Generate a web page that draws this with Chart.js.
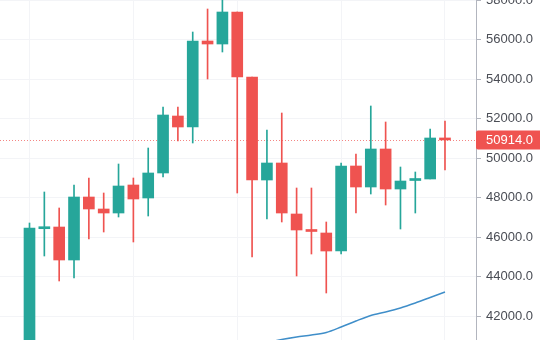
<!DOCTYPE html>
<html>
<head>
<meta charset="utf-8">
<script src="https://cdn.jsdelivr.net/npm/chart.js@4/dist/chart.umd.min.js"></script>
<style>
  html, body { margin: 0; padding: 0; background: #fff; overflow: hidden; }
  #wrap { position: absolute; left: 0; top: -20px; width: 540px; height: 380px; }
</style>
</head>
<body>
<div id="wrap"><canvas id="chart" width="540" height="380"></canvas></div>
<script>
// candles, one per bar slot (index 0..28)
const opens  = [40000, 46420, 46506, 44836, 48025, 47418, 47215, 48633, 47975, 49241,
                52126, 51570, 55924, 55772, 57392, 54101, 48886, 49747, 47165, 46330,
                46203, 45291, 49595, 48532, 50456, 48430, 48860, 48937, 51000];
const closes = [46456, 46470, 44836, 48025, 47418, 47215, 48582, 47924, 49241, 52177,
                51570, 55924, 55772, 57392, 54101, 48886, 49747, 47215, 46355, 46279,
                45291, 49595, 48532, 50456, 48430, 48835, 48900, 51013, 50914];
const highs  = [46709, 48279, 47469, 48633, 48987, 48228, 49696, 48987, 50506, 52582,
                52582, 56379, 57544, 58300, 57392, 54101, 51418, 52278, 48481, 48481,
                46760, 49747, 50203, 52633, 51823, 49544, 49291, 51468, 51873];
const lows   = [39500, 45038, 43773, 43924, 45899, 46253, 47013, 45747, 47063, 49038,
                50861, 50760, 54000, 55367, 48228, 44988, 46912, 46760, 44026, 45139,
                43165, 45139, 47215, 48177, 47620, 46405, 47215, 48937, 49392];

// moving average, only the tail is on screen
const maIndex  = [16, 17, 18, 19, 20, 21, 22, 23, 24, 25, 26, 27, 28];
const maValues = [40650, 40811, 40937, 41038, 41165, 41443, 41747, 42026, 42203, 42405, 42658, 42937, 43215];

const yTickValues = [42000, 44000, 46000, 48000, 50000, 52000, 54000, 56000, 58000];
const xGridAt     = [0, 7, 14, 21, 28];
const lastPrice   = 50914;

const UP   = '#26a69a';
const DOWN = '#ef5350';
const candleColors = opens.map((o, i) => closes[i] >= o ? UP : DOWN);

const priceTag = {
  id: 'priceTag',
  beforeDatasetsDraw(chart) {
    const { ctx, chartArea } = chart;
    const y = Math.round(chart.scales.y.getPixelForValue(lastPrice)) + 0.5;
    ctx.save();
    ctx.strokeStyle = 'rgba(239,83,80,0.7)';
    ctx.lineWidth = 1;
    ctx.setLineDash([1, 2]);
    ctx.beginPath();
    ctx.moveTo(chartArea.left, y);
    ctx.lineTo(chartArea.right, y);
    ctx.stroke();
    ctx.restore();
  },
  afterDraw(chart) {
    const { ctx, chartArea } = chart;
    const y = chart.scales.y.getPixelForValue(lastPrice);
    ctx.save();
    ctx.fillStyle = DOWN;
    ctx.beginPath();
    ctx.roundRect(chartArea.right, y - 9.5, chart.width - chartArea.right + 4, 19, 2);
    ctx.fill();
    ctx.fillStyle = '#fff';
    ctx.font = '13px "Liberation Sans", Arial, sans-serif';
    ctx.textBaseline = 'middle';
    ctx.fillText(lastPrice.toFixed(1), chartArea.right + 10, y + 0.5);
    ctx.restore();
  }
};

new Chart(document.getElementById('chart'), {
  type: 'bar',
  data: {
    datasets: [
      {
        type: 'line',
        data: maIndex.map((x, i) => ({ x, y: maValues[i] })),
        borderColor: '#3f8ec9',
        borderWidth: 1.5,
        pointRadius: 0,
        tension: 0.3,
        order: 0,
      },
      {
        data: opens.map((o, i) => ({ x: i, y: [o, closes[i]] })),
        backgroundColor: candleColors,
        borderWidth: 0,
        barThickness: 11,
        minBarLength: 2,
        grouped: false,
        order: 1,
      },
      {
        data: lows.map((l, i) => ({ x: i, y: [l, highs[i]] })),
        backgroundColor: candleColors,
        borderWidth: 0,
        barThickness: 1,
        grouped: false,
        order: 2,
      },
    ],
  },
  options: {
    responsive: false,
    animation: false,
    events: [],
    layout: { padding: { top: 20, bottom: 20, left: 0, right: 0 } },
    plugins: { legend: { display: false }, tooltip: { enabled: false } },
    scales: {
      x: {
        type: 'linear',
        offset: false,
        min: -1.988,
        max: 30.09,
        afterBuildTicks: s => { s.ticks = xGridAt.map(v => ({ value: v })); },
        ticks: { display: false },
        grid: { color: '#f3f4f7', drawTicks: false, offset: false },
        border: { display: false },
      },
      y: {
        position: 'right',
        min: 40785,
        max: 58000,
        afterBuildTicks: s => { s.ticks = yTickValues.map(v => ({ value: v })); },
        afterFit: s => { s.width = 64; },
        ticks: {
          color: '#4a4d55',
          padding: 5,
          font: { family: '"Liberation Sans", Arial, sans-serif', size: 13 },
          callback: v => Number(v).toFixed(1),
        },
        grid: { color: '#f3f4f7', tickColor: '#b2b5be', tickLength: 5 },
        border: { display: true, color: '#b2b5be' },
      },
    },
  },
  plugins: [priceTag],
});
</script>
</body>
</html>
